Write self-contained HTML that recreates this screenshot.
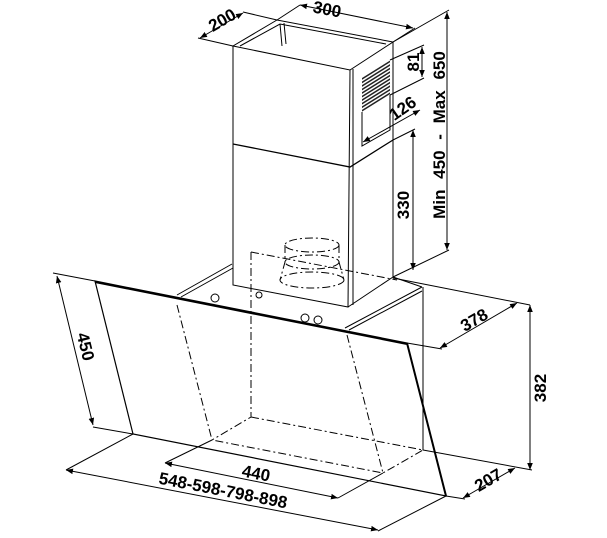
<!DOCTYPE html>
<html><head><style>
html,body{margin:0;padding:0;background:#fff;}
svg{display:block;}
text{font-family:"Liberation Sans",sans-serif;font-weight:bold;font-size:17px;fill:#000;}
</style></head><body>
<svg width="607" height="538" viewBox="0 0 607 538" xmlns="http://www.w3.org/2000/svg">
<defs>
<marker id="a" viewBox="0 0 10 10" refX="10" refY="5" markerWidth="7" markerHeight="7" orient="auto-start-reverse"><path d="M0,1 L10,5 L0,9 z" fill="#000"/></marker>
<pattern id="g" width="4" height="3" patternUnits="userSpaceOnUse" patternTransform="rotate(-32)"><rect width="4" height="1.5" fill="#222"/></pattern>
</defs>
<g fill="none" stroke="#000" stroke-width="1">
<path d="M233,46 L350,70 L393,42 L277,20 Z"/>
<path d="M233,46 L233,285 L348,307 L350,70"/>
<path d="M353,69 L353,305"/>
<path d="M393,42 L393,277 L348,307"/>
<path d="M233,144 L350,167 L393,140" stroke-width="1.3"/>
<path d="M240,46 L280,24 L386,44 M280,24 L282,46 M284,23 L286,44"/>
<path d="M362,77 L390,60 L390,95 L362,112 Z" fill="url(#g)" stroke="none"/>
<path d="M362,112 L362,146 L390,130 L390,95"/>
<g stroke-dasharray="8,3,2,3">
<ellipse cx="312" cy="245" rx="27" ry="7"/>
<ellipse cx="312" cy="262" rx="27" ry="7"/>
<ellipse cx="312" cy="280" rx="32" ry="8"/>
<path d="M285,245 L285,262 L280,280 M339,245 L339,262 L344,280"/>
<path d="M251,252 L397,280 M251,252 L251,417 L212,440 M251,417 L423,450 L383,473 L212,440 M177,305 L212,440 M347,335 L383,473"/>
</g>
<path d="M177,295 L232,264 M181,297 L233,268"/>
<path d="M345,328 L422,287 M349,330 L422,291 M393,277 L422,287"/>
<path d="M423,287 L423,450"/>
<path d="M95,281 L407,343 L446,496 L133,434 Z" stroke-width="1.2"/>
<path d="M95,282 L407,344 M407,343 L446,496" stroke-width="2"/>
<circle cx="215" cy="298" r="4"/><circle cx="259" cy="295" r="3"/><circle cx="305" cy="318" r="4"/><circle cx="318" cy="320" r="4"/>
<path d="M53,273 L95,281 M93,427 L133,434"/>
<path d="M57,276 L93,425" marker-start="url(#a)" marker-end="url(#a)"/>
<path d="M133,434 L66,470 M446,496 L378,531"/>
<path d="M66,470 L378,530" marker-start="url(#a)" marker-end="url(#a)"/>
<path d="M212,440 L165,463 M383,473 L338,498"/>
<path d="M165,463 L338,498" marker-start="url(#a)" marker-end="url(#a)"/>
<path d="M393,278 L530,305 M407,343 L442,349 M423,450 L532,470 M446,496 L465,499"/>
<path d="M440,348 L517,303" marker-start="url(#a)" marker-end="url(#a)"/>
<path d="M530,305 L530,470" marker-start="url(#a)" marker-end="url(#a)"/>
<path d="M463,498 L515,468" marker-start="url(#a)" marker-end="url(#a)"/>
<path d="M277,20 L300,5 M393,42 L415,28"/>
<path d="M300,5 L413,28" marker-start="url(#a)" marker-end="url(#a)"/>
<path d="M233,46 L198,38 M277,20 L243,12"/>
<path d="M200,38 L243,13" marker-start="url(#a)" marker-end="url(#a)"/>
<path d="M393,42 L449,10 M393,277 L449,250"/>
<path d="M447,12 L447,250" marker-start="url(#a)" marker-end="url(#a)"/>
<path d="M390,60 L424,45 M390,95 L424,78"/>
<path d="M422,47 L422,77" marker-start="url(#a)" marker-end="url(#a)"/>
<path d="M363,142 L420,110" marker-start="url(#a)" marker-end="url(#a)"/>
<path d="M393,140 L415,129"/>
<path d="M413,130 L413,270" marker-start="url(#a)" marker-end="url(#a)"/>
</g>
<text transform="translate(80,348) rotate(76)" text-anchor="middle">450</text>
<text transform="translate(222,496) rotate(11)" text-anchor="middle">548-598-798-898</text>
<text transform="translate(255,479) rotate(11)" text-anchor="middle">440</text>
<text transform="translate(477,325) rotate(-30)" text-anchor="middle">378</text>
<text transform="translate(546,388) rotate(-90)" text-anchor="middle">382</text>
<text transform="translate(491,485) rotate(-30)" text-anchor="middle">207</text>
<text transform="translate(326,15) rotate(11)" text-anchor="middle">300</text>
<text transform="translate(225,25) rotate(-30)" text-anchor="middle">200</text>
<text transform="translate(445,135) rotate(-90)" text-anchor="middle" style="word-spacing:6px">Min 450 - Max 650</text>
<text transform="translate(419,62) rotate(-90)" text-anchor="middle">81</text>
<text transform="translate(406,113) rotate(-35)" text-anchor="middle">126</text>
<text transform="translate(409,205) rotate(-90)" text-anchor="middle">330</text>
</svg>
</body></html>
